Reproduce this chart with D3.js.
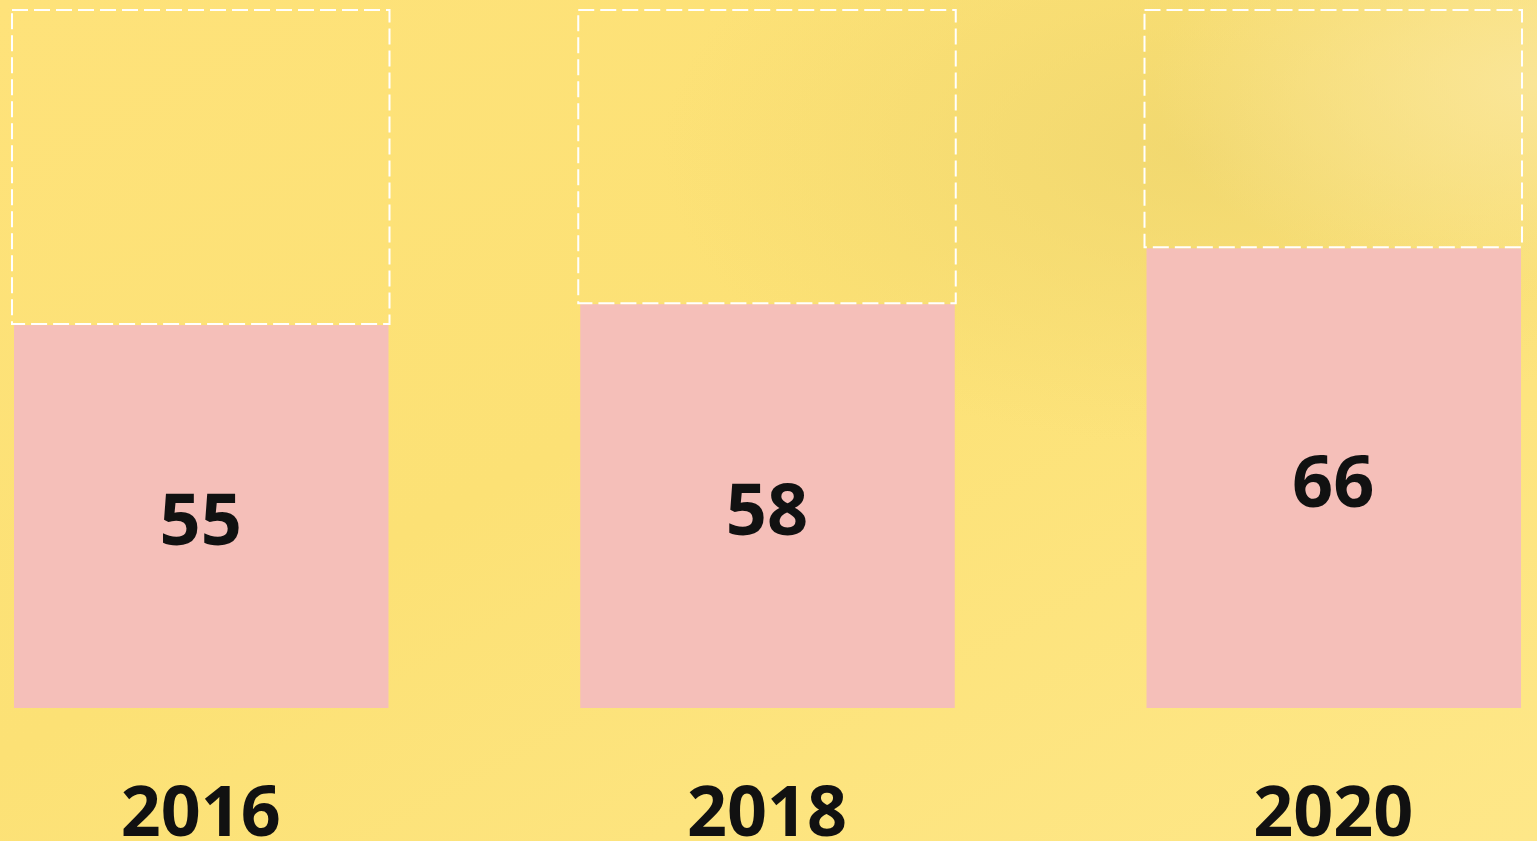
<!DOCTYPE html>
<html><head><meta charset="utf-8">
<script src="https://cdn.jsdelivr.net/npm/d3@7"></script>
<style>html,body{margin:0;padding:0;overflow:hidden;background:#FEE47B}</style>
</head><body>
<script>
const years = ["2016", "2018", "2020"];
const values = [55, 58, 66];
const totals = [100, 100, 100];

const W = 1537, H = 841;
const svg = d3.select("body").append("svg").attr("width", W).attr("height", H);
const defs = svg.append("defs");
const lg = defs.append("linearGradient").attr("id","bg").attr("x1","0").attr("y1","0").attr("x2","1").attr("y2","1");
lg.append("stop").attr("offset","0").attr("stop-color","#FEE27A");
lg.append("stop").attr("offset","0.45").attr("stop-color","#FCE175");
lg.append("stop").attr("offset","1").attr("stop-color","#FEE788");
const rg = defs.append("radialGradient").attr("id","spot").attr("cx","0.78").attr("cy","0.18").attr("r","0.35");
rg.append("stop").attr("offset","0").attr("stop-color","#EFD66E").attr("stop-opacity",0.8);
rg.append("stop").attr("offset","1").attr("stop-color","#EFD66E").attr("stop-opacity",0);
const rg2 = defs.append("radialGradient").attr("id","spot2").attr("cx","1").attr("cy","0.1").attr("r","0.25");
rg2.append("stop").attr("offset","0").attr("stop-color","#FAE69A").attr("stop-opacity",0.9);
rg2.append("stop").attr("offset","1").attr("stop-color","#FAE69A").attr("stop-opacity",0);
svg.append("rect").attr("width",W).attr("height",H).attr("fill","url(#bg)");
svg.append("rect").attr("width",W).attr("height",H).attr("fill","url(#spot)");
svg.append("rect").attr("width",W).attr("height",H).attr("fill","url(#spot2)");

const x = d3.scaleBand().domain(years).range([12, 1522]).paddingInner(1/3).paddingOuter(0);
const y = d3.scaleLinear().domain([0, 100]).range([708, 10]);
const bw = x.bandwidth();

const g = svg.selectAll("g.bar").data(years.map((yr,i)=>({yr, v: values[i], t: totals[i]}))).join("g").attr("class","bar");

g.append("rect")
  .attr("x", d => x(d.yr) + 2).attr("y", d => y(d.v) + 1)
  .attr("width", bw - 3).attr("height", d => y(0) - y(d.v) - 1)
  .attr("fill", "#F5BFB9");

g.append("rect")
  .attr("x", d => x(d.yr)).attr("y", d => y(d.t))
  .attr("width", bw).attr("height", d => y(d.v) - y(d.t))
  .attr("fill", "none").attr("stroke", "#FFFFFF").attr("stroke-width", 2)
  .attr("stroke-dasharray", "16,6");

g.append("text")
  .attr("x", d => x(d.yr) + bw/2)
  .attr("y", d => (y(d.v) + y(0))/2 + 29)
  .attr("text-anchor","middle")
  .attr("font-family","'Open Sans', sans-serif").attr("font-weight","bold")
  .attr("font-size", 72).attr("fill","#111111")
  .text(d => d.v);

g.append("text")
  .attr("x", d => x(d.yr) + bw/2)
  .attr("y", 836)
  .attr("text-anchor","middle")
  .attr("font-family","'Open Sans', sans-serif").attr("font-weight","bold")
  .attr("font-size", 70).attr("fill","#111111")
  .text(d => d.yr);
</script>
</body></html>
